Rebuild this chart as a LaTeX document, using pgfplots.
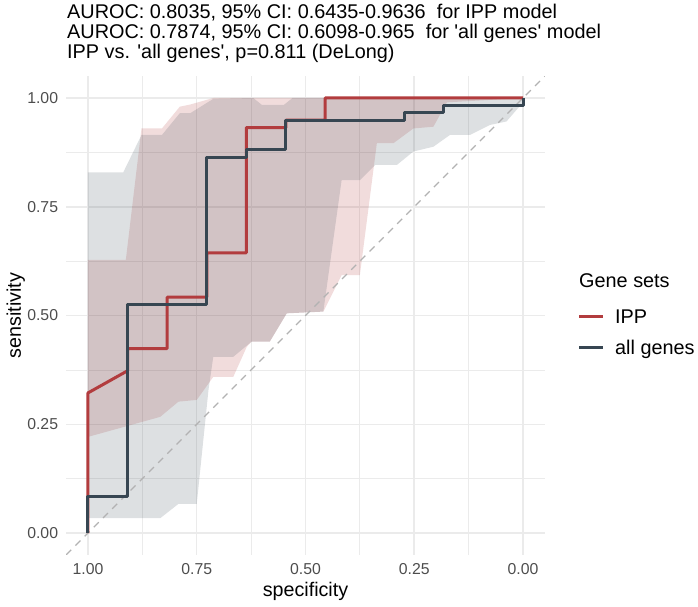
\documentclass[border=0pt]{standalone}
\usepackage{pgfplots}
\pgfplotsset{compat=1.18}
\usepackage{fontspec}
\setmainfont{Liberation Sans}

\definecolor{ippcol}{RGB}{178,60,62}
\definecolor{allcol}{RGB}{55,70,82}
\definecolor{gridmaj}{RGB}{235,235,235}
\definecolor{tickcol}{RGB}{77,77,77}

\begin{document}
\begin{tikzpicture}
\path[use as bounding box] (0pt,0pt) rectangle (698pt,606pt);

\begin{axis}[
    at={(66.25pt,51.25pt)}, anchor=south west,
    scale only axis, width=478.5pt, height=478.5pt,
    x dir=reverse,
    xmin=-0.05, xmax=1.05, ymin=-0.05, ymax=1.05,
    xtick={0,0.25,0.5,0.75,1}, ytick={0,0.25,0.5,0.75,1},
    minor tick num=1,
    grid=both,
    major grid style={color=gridmaj, line width=1.5pt},
    minor grid style={color=gridmaj, line width=0.75pt},
    axis line style={draw=none},
    major tick style={draw=none}, minor tick style={draw=none},
    tick label style={font=\fontsize{15.8}{15.8}\selectfont, text=tickcol, inner sep=0pt},
    xticklabel style={anchor=north, yshift=-9pt},
    yticklabel style={anchor=east, xshift=-8pt},
    /pgf/number format/.cd, fixed, fixed zerofill, precision=2, assume math mode=true,
    /pgfplots/.cd,
    xlabel={specificity}, ylabel={sensitivity},
    label style={font=\fontsize{19.7}{19.7}\selectfont},
    xlabel style={at={(axis description cs:0.5,0)}, anchor=base, yshift=-42pt},
    ylabel style={at={(axis description cs:-0.0946,0.5)}, anchor=base},
]

% confidence band, IPP (upper bound, then lower bound back)
\addplot[draw=none, fill=ippcol, fill opacity=0.18] coordinates {
  (1,0.628) (0.913,0.628) (0.877,0.930) (0.830,0.930) (0.789,0.980) (0.765,0.985) (0.712,1) (0,1)
  (0,1) (0.175,0.990) (0.206,0.934) (0.252,0.930) (0.298,0.896) (0.336,0.896) (0.375,0.593)
  (0.417,0.593) (0.459,0.509) (0.543,0.505) (0.582,0.440) (0.624,0.440) (0.635,0.428)
  (0.666,0.359) (0.712,0.359) (0.750,0.306) (0.792,0.302) (0.834,0.267) (1,0.221)
} -- cycle;

% confidence band, all genes
\addplot[draw=none, fill=allcol, fill opacity=0.17] coordinates {
  (1,0.829) (0.919,0.829) (0.877,0.915) (0.830,0.915) (0.789,0.965) (0.765,0.965) (0.712,0.998)
  (0.620,1) (0.600,0.984) (0.550,0.984) (0.530,1) (0,1)
  (0,0.990) (0.038,0.946) (0.076,0.938) (0.122,0.915) (0.168,0.915) (0.206,0.888) (0.252,0.877)
  (0.290,0.846) (0.340,0.846) (0.375,0.811) (0.417,0.811) (0.459,0.509) (0.543,0.505)
  (0.582,0.440) (0.624,0.440) (0.666,0.405) (0.712,0.405) (0.723,0.329) (0.750,0.067)
  (0.792,0.067) (0.834,0.034) (1,0.034)
} -- cycle;

% chance line
\addplot[color=gray!60, line width=1.3pt, dash pattern=on 7pt off 6pt] coordinates {(1.05,-0.05) (-0.05,1.05)};

% ROC, IPP
\addplot[color=ippcol, line width=3pt, line join=round] coordinates {
  (1,0) (1,0.322) (0.909,0.373) (0.909,0.424) (0.818,0.424) (0.818,0.542) (0.727,0.542)
  (0.727,0.644) (0.636,0.644) (0.636,0.932) (0.545,0.932) (0.545,0.949) (0.455,0.949)
  (0.455,1) (0,1)
};

% ROC, all genes
\addplot[color=allcol, line width=3pt, line join=round] coordinates {
  (1,0) (1,0.085) (0.909,0.085) (0.909,0.525) (0.727,0.525) (0.727,0.864) (0.636,0.864)
  (0.636,0.881) (0.545,0.881) (0.545,0.949) (0.273,0.949) (0.273,0.966) (0.182,0.966)
  (0.182,0.983) (0,0.983) (0,1)
};
\end{axis}

% title
\begin{scope}[every node/.style={anchor=base west, inner sep=0pt, font=\fontsize{19.85}{19.85}\selectfont}]
\node at (67pt,587.5pt) {AUROC: 0.8035, 95\% CI: 0.6435-0.9636\ \ for IPP model};
\node at (67pt,567.3pt) {AUROC: 0.7874, 95\% CI: 0.6098-0.965\ \ for \textquotesingle all genes\textquotesingle\ model};
\node at (67pt,547.3pt) {IPP vs. \textquotesingle all genes\textquotesingle, p=0.811 (DeLong)};
\end{scope}

% legend
\begin{scope}[every node/.style={anchor=base west, inner sep=0pt, font=\fontsize{19.85}{19.85}\selectfont}]
\node at (579pt,318.5pt) {Gene sets};
\draw[ippcol, line width=3pt] (579pt,290pt) -- (603pt,290pt);
\node at (615pt,283pt) {IPP};
\draw[allcol, line width=3pt] (579pt,259pt) -- (603pt,259pt);
\node at (615pt,252pt) {all genes};
\end{scope}
\end{tikzpicture}
\end{document}
